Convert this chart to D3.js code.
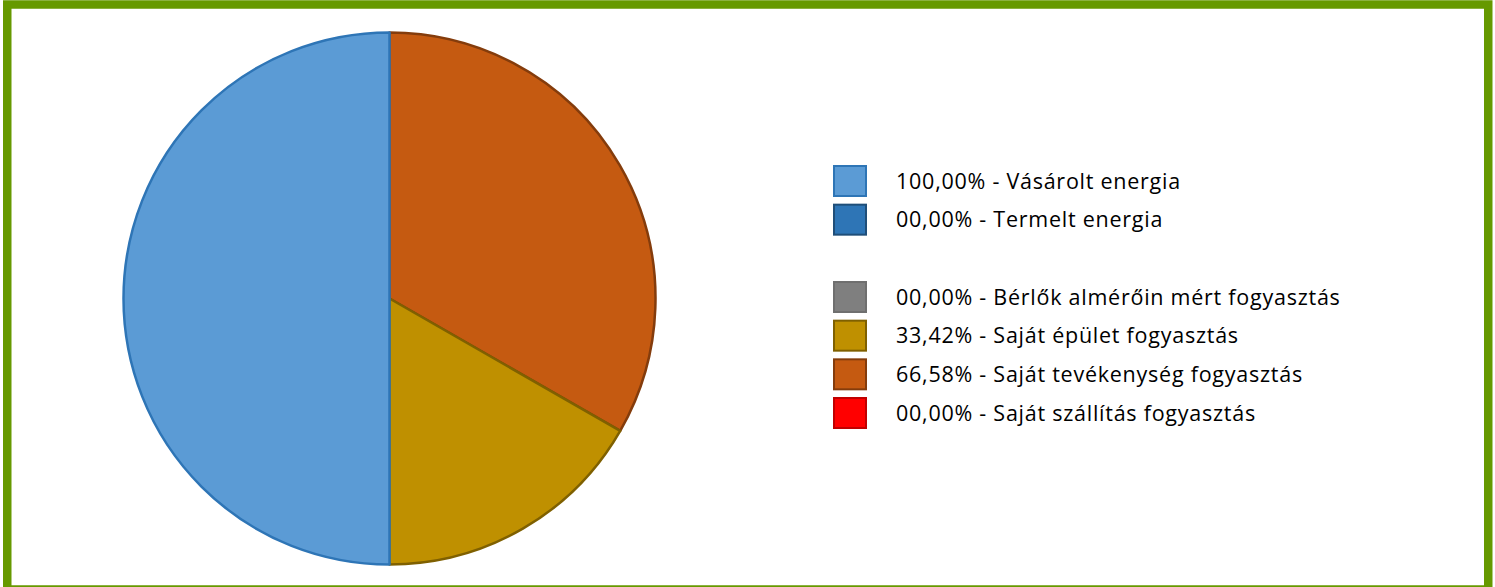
<!DOCTYPE html>
<html>
<head>
<meta charset="utf-8">
<script src="https://cdn.jsdelivr.net/npm/d3@7"></script>
<style>
  html, body { margin: 0; padding: 0; background: #fff; overflow: hidden; }
  svg { display: block; }
</style>
</head>
<body>
<div id="chart"></div>
<script>
// adatok - a legenda sorrendjében
const labels = ["Vásárolt energia", "Termelt energia", "Bérlők almérőin mért fogyasztás",
                "Saját épület fogyasztás", "Saját tevékenység fogyasztás", "Saját szállítás fogyasztás"];
const values = [100.00, 0.00, 0.00, 33.42, 66.58, 0.00];
const legendRows = [0, 1, 3, 4, 5, 6];
const fills = ["#5B9BD5", "#2E75B6", "#7F7F7F", "#BF9000", "#C55A11", "#FF0000"];
const strokes = ["#2E75B6", "#1F4E79", "#6F6F6F", "#7F6000", "#843C0C", "#C00000"];

const W = 1495, H = 587;
const fmt = v => {
    const s = v.toFixed(2).replace(".", ",");
    return (v < 10 ? "0" + s : s) + "%";
};

const svg = d3.select("#chart").append("svg")
    .attr("width", W)
    .attr("height", H);

svg.append("rect")
    .attr("x", 7.25).attr("y", 4.5)
    .attr("width", 1481).attr("height", 585)
    .attr("fill", "#fff")
    .attr("stroke", "#669900")
    .attr("stroke-width", 8.5);

const data = labels.map((l, i) => ({ label: l, value: values[i], fill: fills[i], stroke: strokes[i] }));

// a körcikkek felülről az óramutató irányában, fordított sorrendben
const pie = d3.pie().sort(null).value(d => d.value);
const arcs = pie(data.slice().reverse()).filter(a => a.value > 0);

const r = 266;
const arc = d3.arc().innerRadius(0).outerRadius(r);

const g = svg.append("g").attr("transform", "translate(389.5,298.5)");

g.selectAll("path")
    .data(arcs)
    .enter()
    .append("path")
    .attr("d", arc)
    .attr("fill", d => d.data.fill)
    .attr("stroke", d => d.data.stroke)
    .attr("stroke-width", 2.5)
    .attr("stroke-linejoin", "round");

// legenda
const y = d3.scaleLinear().domain([0, 6]).range([181, 413]);

const leg = svg.append("g");
data.forEach((d, i) => {
    const cy = y(legendRows[i]);
    leg.append("rect")
        .attr("x", 834).attr("y", cy - 15)
        .attr("width", 32).attr("height", 30)
        .attr("fill", d.fill)
        .attr("stroke", d.stroke)
        .attr("stroke-width", 2);
    leg.append("text")
        .attr("x", 896).attr("y", cy)
        .attr("dy", "0.35em")
        .attr("font-family", "'Open Sans', sans-serif")
        .attr("font-size", 21.5)
        .attr("letter-spacing", 0.75)
        .attr("fill", "#000")
        .text(`${fmt(d.value)} - ${d.label}`);
});
</script>
</body>
</html>
